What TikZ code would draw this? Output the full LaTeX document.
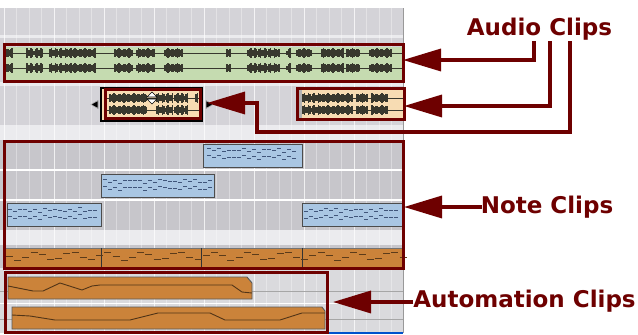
\documentclass[tikz,border=0pt]{standalone}
\usepackage{fontspec}
\setmainfont{DejaVu Sans}
\usetikzlibrary{arrows.meta}
\definecolor{dred}{HTML}{6E0000}
\definecolor{rowA}{HTML}{D4D3D8}
\definecolor{rowB}{HTML}{C7C6CB}
\definecolor{bandc}{HTML}{EBEBEE}
\definecolor{autobg}{HTML}{DADADD}
\definecolor{greenc}{HTML}{C5DBB0}
\definecolor{tanc}{HTML}{F7DCB3}
\definecolor{bluec}{HTML}{A9C6E3}
\definecolor{orangec}{HTML}{CB833A}
\definecolor{wavec}{HTML}{38382E}
\definecolor{notec}{HTML}{40557A}
\tikzset{
  redbox/.style={draw=dred,line width=3pt,inner sep=0pt,outer sep=0pt,anchor=north west},
  redarrow/.style={draw=dred,line width=3.4pt,-{Triangle[length=38pt,width=22pt]}},
  lbl/.style={text=dred,font=\bfseries\fontsize{23}{23}\selectfont,inner sep=0pt,anchor=base},
  noteclip/.style={fill=bluec,draw=black!70,line width=0.8pt},
  autoclip/.style={fill=orangec,draw=black!65,line width=0.9pt},
  autoline/.style={draw=black!60!orangec,line width=0.9pt},
}
\newcommand\wvrow[2]{%
  \draw[wavec,line width=0.6pt] (\wvxa,#1) -- (\wvxb,#1);
  \foreach \a/\b in {#2}{%
    \pgfmathsetmacro\c{\a+1.4}%
    \foreach \x in {\a,\c,...,\b}{%
      \pgfmathsetmacro\h{2.4+2.2*abs(sin(\x*37))}%
      \fill[wavec] (\x-0.8,#1-\h) rectangle (\x+0.8,#1+\h);
    }%
  }%
}
\newcommand\ndash[3]{% y, x0, x1
  \pgfmathsetmacro\c{#2+5}%
  \foreach \x in {#2,\c,...,#3}{%
    \pgfmathsetmacro\o{1.5*sin(\x*31)+0.8*sin(\x*13)}%
    \draw[notec,line width=0.7pt] (\x,#1+\o) -- (\x+4,#1+\o);
  }%
}
\begin{document}
\begin{tikzpicture}[x=1pt,y=-1pt]
\useasboundingbox (0,0) rectangle (638,335);
\fill[white] (0,0) rectangle (638,335);
% ---------- track panel ----------
\fill[bandc] (0,8) rectangle (403,333);
\fill[rowA] (0,8) rectangle (403,35);
\fill[rowA] (0,38) rectangle (403,82);
\fill[rowA] (0,86) rectangle (403,125);
\fill[rowB] (0,140) rectangle (403,230);
\fill[rowB] (0,245) rectangle (403,268);
\fill[autobg] (0,270) rectangle (403,333);
% vertical grid
\foreach \i in {0,...,32}{
  \pgfmathsetmacro\gx{4+12.5*\i}
  \pgfmathtruncatemacro\m{mod(\i,4)}
  \ifnum\m=0
    \draw[white,opacity=0.75,line width=1pt] (\gx,8) -- (\gx,333);
  \else
    \draw[white,opacity=0.35,line width=0.8pt] (\gx,8) -- (\gx,333);
  \fi
}
\draw[white,line width=1.4pt] (0,170) -- (403,170);
\draw[white,line width=1.4pt] (0,200) -- (403,200);
\draw[black!35,line width=0.8pt] (0,291) -- (403,291);
\draw[black!35,line width=0.8pt] (0,319) -- (403,319);
\draw[white,line width=1pt] (0,303) -- (403,303);
\draw[black!40,line width=0.8pt] (403,8) -- (403,333);
\draw[blue!60!cyan!80!black,line width=1.5pt] (327,333) -- (403,333);
% ---------- audio clips ----------
\fill[greenc] (5,47) rectangle (402,80);
\def\wvxa{5}\def\wvxb{402}
\wvrow{53}{5/12,27/43,50/95,115/133,137/155,165/183,227/230,248/280,287/290,297/312,322/343,347/360,370/392}
\wvrow{68}{5/12,27/43,50/95,115/133,137/155,165/183,227/230,248/280,287/290,297/312,322/343,347/360,370/392}
% selected clip
\fill[tanc,draw=black,line width=1.6pt] (101,88) rectangle (202,121);
\def\wvxa{105}\def\wvxb{200}
\wvrow{98}{110/147,157/173,175/188,196/198}
\wvrow{110}{110/147,157/173,175/188}
\filldraw[fill=white,draw=black,line width=0.6pt] (147,97) -- (152,92) -- (157,97) -- cycle;
\filldraw[fill=white,draw=black,line width=0.6pt] (147,99) -- (152,104) -- (157,99) -- cycle;
\filldraw[fill=black,draw=black!30,line width=0.6pt] (91,104.5) -- (98,100.5) -- (98,108.5) -- cycle;
\filldraw[fill=black,draw=black!30,line width=0.6pt] (213,104.5) -- (206,100.5) -- (206,108.5) -- cycle;
% right clip
\fill[black!30] (297,88) rectangle (302,121);
\fill[tanc] (302,88) rectangle (404,121);
\def\wvxa{302}\def\wvxb{404}
\wvrow{98}{303/353,357/367,372/388}
\wvrow{110}{303/353,357/367,372/388}
% ---------- note clips ----------
\filldraw[noteclip] (203,144) rectangle (302,167);
\ndash{150}{207}{295}\ndash{157}{207}{295}
\filldraw[noteclip] (101,174) rectangle (214,197);
\ndash{181}{103}{208}\ndash{188}{103}{208}
\filldraw[noteclip] (7,203) rectangle (101,226);
\ndash{210}{8}{95}\ndash{217}{8}{95}
\filldraw[noteclip] (302,203) rectangle (402,226);
\ndash{210}{304}{396}\ndash{217}{304}{396}
% orange band
\fill[orangec] (5,248) rectangle (403,267);
\draw[black!55,line width=0.8pt] (5,248) -- (403,248);
\foreach \x in {101,201,302}{\draw[black!80,line width=1pt] (\x,248) -- (\x,267);}
\foreach \i in {0,...,48}{
  \pgfmathsetmacro\xx{6+8.2*\i}
  \pgfmathsetmacro\yy{256+4*sin(\i*83)}
  \draw[black!55!orangec,line width=0.8pt] (\xx,\yy) -- (\xx+7,\yy);
}
% ---------- automation clips ----------
\filldraw[autoclip] (8,277) -- (247,277) -- (252,283) -- (252,299) -- (8,299) -- cycle;
\draw[autoline] (8,286) -- (33,291) -- (43,291) -- (60,283) -- (82,290) -- (92,286) -- (100,285) -- (232,285) -- (242,292) -- (252,293);
\filldraw[autoclip] (12,307) -- (322,307) -- (325,311) -- (325,329) -- (12,329) -- cycle;
\draw[autoline] (12,315) -- (30,316) -- (55,320) -- (130,320) -- (150,315) -- (158,313) -- (210,313) -- (225,320) -- (280,320) -- (302,313) -- (325,313);
% ---------- red boxes ----------
\node[redbox,minimum width=399pt,minimum height=37pt] (boxAudioA) at (4,44) {};
\node[redbox,minimum width=95pt,minimum height=29pt] (boxSel) at (105,89) {};
\node[redbox,minimum width=107pt,minimum height=31pt] (boxAudioB) at (297,88) {};
\node[redbox,minimum width=399pt,minimum height=127pt] (boxNote) at (4,141) {};
\node[redbox,minimum width=322pt,minimum height=60pt] (boxAuto) at (5,272) {};
% ---------- labels ----------
\node[lbl] (lblAudio) at (539.5,35) {Audio Clips};
\node[lbl] (lblNote) at (547,213) {Note Clips};
\node[lbl] (lblAuto) at (524.5,307) {Automation Clips};
% ---------- arrows ----------
\coordinate (s1) at (534,41);
\coordinate (s2) at (550,41);
\coordinate (s3) at (570,41);
\coordinate (t1) at (403,60);
\coordinate (t2) at (404,106);
\coordinate (b3) at (257,132);
\coordinate (t3) at (207,103);
\coordinate (sN) at (482,207);
\coordinate (tN) at (404,207);
\coordinate (sA) at (413,302);
\coordinate (tA) at (333,302);
\draw[redarrow] (s1) |- (t1);
\draw[redarrow] (s2) |- (t2);
\draw[redarrow] (s3) |- (b3) |- (t3);
\draw[redarrow] (sN) -- (tN);
\draw[redarrow] (sA) -- (tA);
\end{tikzpicture}
\end{document}
